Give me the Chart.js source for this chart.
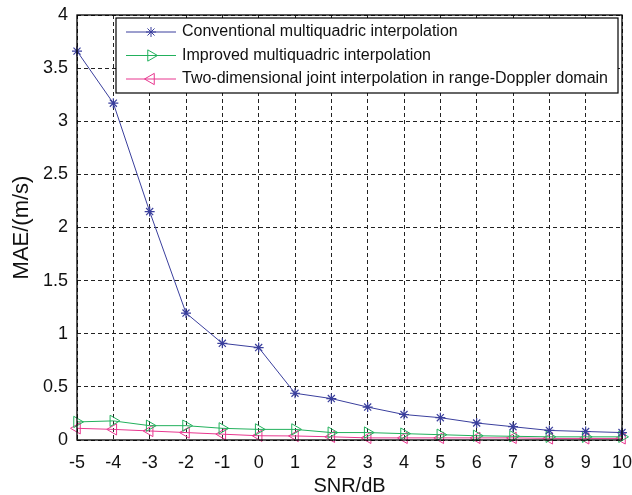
<!DOCTYPE html>
<html>
<head>
<meta charset="utf-8">
<script src="https://cdn.jsdelivr.net/npm/chart.js@4"></script>
<style>
  html, body { margin: 0; padding: 0; background: #fff; }
  #wrap { width: 632px; height: 495px; }
</style>
</head>
<body>
<div id="wrap"><canvas id="c" width="632" height="495"></canvas></div>
<script>
const snr = [-5, -4, -3, -2, -1, 0, 1, 2, 3, 4, 5, 6, 7, 8, 9, 10];
const conventional = [3.66, 3.17, 2.15, 1.195, 0.91, 0.87, 0.44, 0.39, 0.31, 0.24, 0.21, 0.16, 0.125, 0.09, 0.08, 0.07];
const improved = [0.17, 0.18, 0.135, 0.135, 0.11, 0.10, 0.10, 0.07, 0.07, 0.06, 0.05, 0.04, 0.035, 0.03, 0.03, 0.03];
const twoDimensional = [0.11, 0.10, 0.085, 0.07, 0.055, 0.04, 0.038, 0.03, 0.02, 0.02, 0.02, 0.02, 0.02, 0.015, 0.015, 0.015];
const seriesNames = [
  'Conventional multiquadric interpolation',
  'Improved multiquadric interpolation',
  'Two-dimensional joint interpolation in range-Doppler domain'
];
const yTicks = [0, 0.5, 1, 1.5, 2, 2.5, 3, 3.5, 4];
const xTitle = 'SNR/dB';
const yTitle = 'MAE/(m/s)';

const FONT = "'Liberation Sans', Arial, Helvetica, sans-serif";
const BLUE = '#3a3f9d', GREEN = '#22b05c', PINK = '#e8378f';

function pts(arr) { return snr.map((x, i) => ({ x: x, y: arr[i] })); }

function drawMarker(ctx, style, rot, x, y, r, color) {
  ctx.save();
  ctx.strokeStyle = color; ctx.lineWidth = 1;
  ctx.beginPath();
  if (style === 'star') {
    for (let k = 0; k < 4; k++) {
      const a = k * Math.PI / 4;
      ctx.moveTo(x - r * Math.cos(a), y - r * Math.sin(a));
      ctx.lineTo(x + r * Math.cos(a), y + r * Math.sin(a));
    }
  } else {
    const a0 = rot * Math.PI / 180;
    for (let k = 0; k < 3; k++) {
      const a = a0 + k * 2 * Math.PI / 3;
      const px = x + r * Math.sin(a), py = y - r * Math.cos(a);
      if (k === 0) ctx.moveTo(px, py); else ctx.lineTo(px, py);
    }
    ctx.closePath();
  }
  ctx.stroke();
  ctx.restore();
}

const boxLegend = {
  id: 'boxLegend',
  afterDraw(chart) {
    const ctx = chart.ctx, a = chart.chartArea;
    ctx.save();
    ctx.strokeStyle = '#000'; ctx.lineWidth = 1.3;
    ctx.strokeRect(a.left, a.top, a.right - a.left, a.bottom - a.top);
    const lx = 116, ly = 18, lw = 502, lh = 75;
    ctx.fillStyle = '#fff';
    ctx.fillRect(lx, ly, lw, lh);
    ctx.strokeStyle = '#000'; ctx.lineWidth = 1.2;
    ctx.strokeRect(lx, ly, lw, lh);
    chart.data.datasets.forEach((ds, i) => {
      const cy = ly + 14 + i * 23.5;
      ctx.strokeStyle = ds.borderColor; ctx.lineWidth = 1;
      ctx.beginPath(); ctx.moveTo(126, cy); ctx.lineTo(176, cy); ctx.stroke();
      drawMarker(ctx, ds.pointStyle, ds.pointRotation || 0, 151, cy, ds.pointRadius, ds.borderColor);
      ctx.fillStyle = '#111';
      ctx.font = '16px ' + FONT;
      ctx.textBaseline = 'middle';
      ctx.textAlign = 'left';
      ctx.fillText(ds.label, 182, cy);
    });
    ctx.restore();
  }
};

new Chart(document.getElementById('c'), {
  type: 'line',
  data: {
    datasets: [
      { label: seriesNames[0], data: pts(conventional), borderColor: BLUE, backgroundColor: BLUE,
        borderWidth: 1, pointStyle: 'star', pointRadius: 5, pointBorderWidth: 1.2, pointBorderColor: BLUE,
        tension: 0, clip: false },
      { label: seriesNames[1], data: pts(improved), borderColor: GREEN, backgroundColor: 'rgba(0,0,0,0)',
        borderWidth: 1, pointStyle: 'triangle', pointRotation: 90, pointRadius: 6.5, pointBorderWidth: 1,
        pointBorderColor: GREEN, pointBackgroundColor: 'rgba(0,0,0,0)', tension: 0, clip: false },
      { label: seriesNames[2], data: pts(twoDimensional), borderColor: PINK, backgroundColor: 'rgba(0,0,0,0)',
        borderWidth: 1, pointStyle: 'triangle', pointRotation: -90, pointRadius: 6.5, pointBorderWidth: 1,
        pointBorderColor: PINK, pointBackgroundColor: 'rgba(0,0,0,0)', tension: 0, clip: false }
    ]
  },
  options: {
    responsive: false,
    animation: false,
    devicePixelRatio: 1,
    layout: { padding: { left: 0, right: 10, top: 15, bottom: 0 } },
    plugins: { legend: { display: false }, tooltip: { enabled: false } },
    scales: {
      x: {
        type: 'linear', min: -5, max: 10,
        afterBuildTicks(s) { s.ticks = snr.map(v => ({ value: v })); },
        afterFit(s) { s.height = 55; s.paddingLeft = 0; s.paddingRight = 0; },
        grid: { color: '#222', lineWidth: 1, drawTicks: false },
        border: { display: false, dash: [4, 3] },
        ticks: { color: '#111', font: { family: FONT, size: 18 }, padding: 12, maxRotation: 0, autoSkip: false,
                 callback: v => String(v) },
        title: { display: true, text: xTitle, color: '#111', font: { family: FONT, size: 20, lineHeight: 0.9 }, padding: { top: 0, bottom: 0 } }
      },
      y: {
        type: 'linear', min: 0, max: 4,
        afterBuildTicks(s) { s.ticks = yTicks.map(v => ({ value: v })); },
        afterFit(s) { s.width = 77; s.paddingTop = 0; s.paddingBottom = 0; },
        grid: { color: '#222', lineWidth: 1, drawTicks: false },
        border: { display: false, dash: [4, 3] },
        ticks: { color: '#111', font: { family: FONT, size: 18 }, padding: 9, autoSkip: false,
                 callback: v => String(v) },
        title: { display: true, text: yTitle, color: '#111', font: { family: FONT, size: 22 }, padding: { top: 9, bottom: 0 } }
      }
    }
  },
  plugins: [boxLegend]
});
</script>
</body>
</html>
